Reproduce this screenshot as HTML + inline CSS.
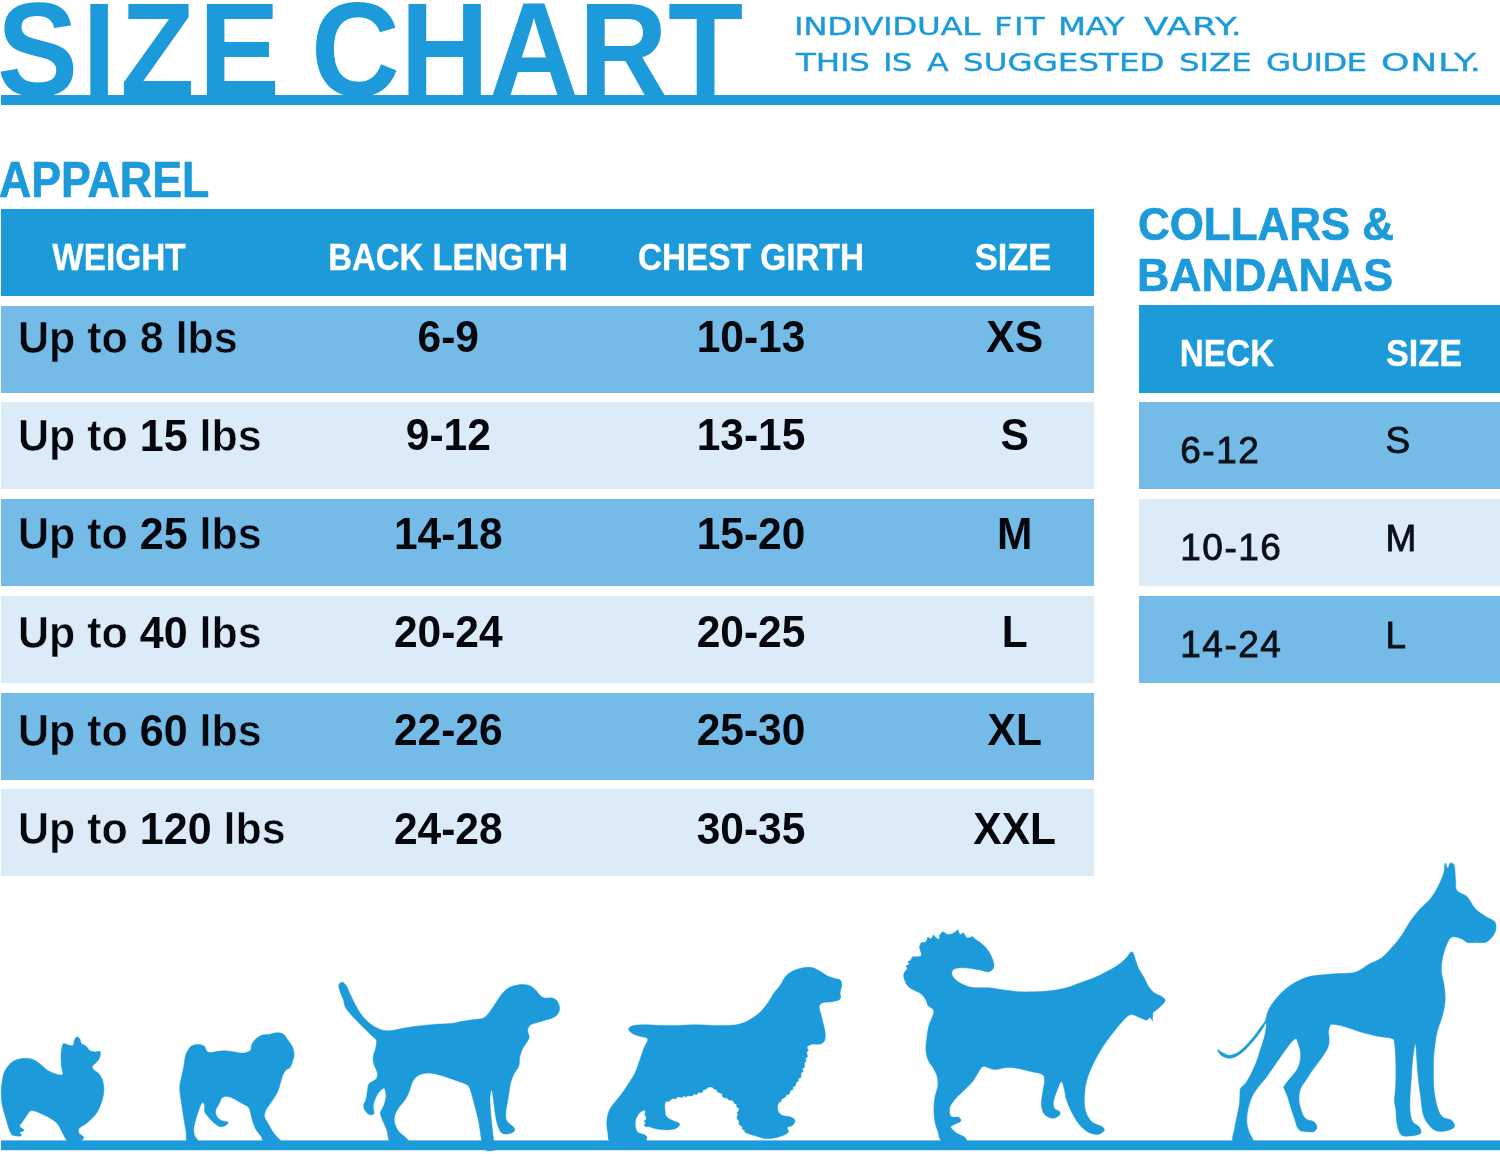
<!DOCTYPE html>
<html lang="en"><head><meta charset="utf-8"><title>Size Chart</title>
<style>
html,body{margin:0;padding:0;background:#fff;}
body{width:1500px;height:1154px;position:relative;overflow:hidden;font-family:"Liberation Sans",sans-serif;}
.abs{position:absolute;white-space:nowrap;line-height:1;}
.c{transform-origin:50% 84.65%;text-align:center;}
.blue{color:#1c9ad9;}
.hv{-webkit-text-stroke:0.7px #1c9ad9;}
.bar{position:absolute;}
.hd{color:#fff;font-weight:bold;font-size:37.5px;-webkit-text-stroke:0.35px #fff;}
.num{color:#05070d;font-weight:bold;font-size:42.5px;}
.sy{display:inline-block;transform-origin:0 84.65%;transform:scaleY(1.045);}
.wt{color:#05070d;font-size:43px;font-weight:bold;}
.wt b{-webkit-text-stroke:0;}
.rn{color:#0a0f18;font-size:37px;letter-spacing:1.5px;-webkit-text-stroke:0.8px #0a0f18;}
.ttl{font-size:133.5px;font-weight:bold;transform-origin:0 0;}
.sub{font-family:"DejaVu Sans","Liberation Sans",sans-serif;font-size:25px;transform-origin:0 0;-webkit-text-stroke:0.35px #1c9ad9;}
</style></head><body>

<header>
<h1 style="margin:0;font-size:inherit;font-weight:inherit">
<span id="t1" class="abs blue ttl" style="top:-17.5px;left:-3.5px;transform:scaleX(0.91);letter-spacing:4.7px">SIZE</span>
<span id="t2" class="abs blue ttl" style="top:-17.5px;left:310.8px;transform:scaleX(0.922);letter-spacing:0.4px">CHART</span>
</h1>
<div class="bar" style="left:1px;top:95.4px;width:1499px;height:9.2px;background:#1c9ad9"></div>
<p class="abs blue sub" id="sub1" style="margin:0;left:0;top:14.0px;width:1500px;height:26px"><span style="position:absolute;left:794.1px;top:0;transform-origin:0 0;transform:scaleX(1.300);letter-spacing:-0.26px">INDIVIDUAL</span> <span style="position:absolute;left:994.3px;top:0;transform-origin:0 0;transform:scaleX(1.300);letter-spacing:0.96px">FIT</span> <span style="position:absolute;left:1058.1px;top:0;transform-origin:0 0;transform:scaleX(1.300);letter-spacing:-0.35px">MAY</span> <span style="position:absolute;left:1144.3px;top:0;transform-origin:0 0;transform:scaleX(1.426);letter-spacing:0.50px">VARY.</span></p>
<p class="abs blue sub" id="sub2" style="margin:0;left:0;top:49.5px;width:1500px;height:26px"><span style="position:absolute;left:795.8px;top:0;transform-origin:0 0;transform:scaleX(1.300);letter-spacing:-0.15px">THIS</span> <span style="position:absolute;left:883.4px;top:0;transform-origin:0 0;transform:scaleX(1.300);letter-spacing:-0.62px">IS</span> <span style="position:absolute;left:926.8px;top:0;transform-origin:0 0;transform:scaleX(1.271);letter-spacing:0.00px">A</span> <span style="position:absolute;left:962.7px;top:0;transform-origin:0 0;transform:scaleX(1.300);letter-spacing:0.01px">SUGGESTED</span> <span style="position:absolute;left:1178.7px;top:0;transform-origin:0 0;transform:scaleX(1.300);letter-spacing:-0.05px">SIZE</span> <span style="position:absolute;left:1265.9px;top:0;transform-origin:0 0;transform:scaleX(1.300);letter-spacing:-0.58px">GUIDE</span> <span style="position:absolute;left:1381.0px;top:0;transform-origin:0 0;transform:scaleX(1.448);letter-spacing:0.50px">ONLY.</span></p>
</header>
<main>
<section aria-label="Apparel size chart">
<h2 class="abs blue hv" id="apparel" style="margin:0;left:-1px;top:155.1px;font-size:50.5px;font-weight:bold;transform-origin:0 0;transform:scaleX(0.885)">APPAREL</h2>
<div role="table" aria-label="Apparel">
<div role="row">
<div class="bar" style="left:1px;top:209px;width:1093px;height:87px;background:#1c9ad9"></div>
<div role="columnheader" class="abs c hd" id="h1" style="left:-81.0px;width:400px;top:239px;transform:scale(0.89,1.0);">WEIGHT</div>
<div role="columnheader" class="abs c hd" id="h2" style="left:248.0px;width:400px;top:239px;transform:scale(0.878,1.0);">BACK LENGTH</div>
<div role="columnheader" class="abs c hd" id="h3" style="left:551.0px;width:400px;top:239px;transform:scale(0.89,1.0);">CHEST GIRTH</div>
<div role="columnheader" class="abs c hd" id="h4" style="left:813.3px;width:400px;top:239px;transform:scale(0.92,1.0);">SIZE</div>
</div>
<div role="row">
<div class="bar" style="left:1px;top:305.50px;width:1093px;height:87px;background:#74bbe8"></div>
<div role="cell" class="abs wt" id="w0" style="left:18px;top:316.50px;-webkit-text-stroke:0.55px #74bbe8"><span class="sy">Up to 8 lbs</span></div>
<div role="cell" class="abs c num" id="b0" style="left:248.3px;width:400px;top:316.92px;transform:scale(1.0,1.045);">6-9</div>
<div role="cell" class="abs c num" id="c0" style="left:551.0px;width:400px;top:316.92px;transform:scale(1.0,1.045);">10-13</div>
<div role="cell" class="abs c num" id="s0" style="left:814.7px;width:400px;top:316.92px;transform:scale(1.0,1.045);">XS</div>
</div>
<div role="row">
<div class="bar" style="left:1px;top:402.25px;width:1093px;height:87px;background:#dcebf8"></div>
<div role="cell" class="abs wt" id="w1" style="left:18px;top:414.85px;-webkit-text-stroke:0.55px #dcebf8"><span class="sy">Up to <b>15</b> lbs</span></div>
<div role="cell" class="abs c num" id="b1" style="left:248.3px;width:400px;top:415.27px;transform:scale(1.0,1.045);">9-12</div>
<div role="cell" class="abs c num" id="c1" style="left:551.0px;width:400px;top:415.27px;transform:scale(1.0,1.045);">13-15</div>
<div role="cell" class="abs c num" id="s1" style="left:814.7px;width:400px;top:415.27px;transform:scale(1.0,1.045);">S</div>
</div>
<div role="row">
<div class="bar" style="left:1px;top:499.00px;width:1093px;height:87px;background:#74bbe8"></div>
<div role="cell" class="abs wt" id="w2" style="left:18px;top:513.20px;-webkit-text-stroke:0.55px #74bbe8"><span class="sy">Up to <b>25</b> lbs</span></div>
<div role="cell" class="abs c num" id="b2" style="left:248.3px;width:400px;top:513.62px;transform:scale(1.0,1.045);">14-18</div>
<div role="cell" class="abs c num" id="c2" style="left:551.0px;width:400px;top:513.62px;transform:scale(1.0,1.045);">15-20</div>
<div role="cell" class="abs c num" id="s2" style="left:814.7px;width:400px;top:513.62px;transform:scale(1.0,1.045);">M</div>
</div>
<div role="row">
<div class="bar" style="left:1px;top:595.75px;width:1093px;height:87px;background:#dcebf8"></div>
<div role="cell" class="abs wt" id="w3" style="left:18px;top:611.55px;-webkit-text-stroke:0.55px #dcebf8"><span class="sy">Up to <b>40</b> lbs</span></div>
<div role="cell" class="abs c num" id="b3" style="left:248.3px;width:400px;top:611.97px;transform:scale(1.0,1.045);">20-24</div>
<div role="cell" class="abs c num" id="c3" style="left:551.0px;width:400px;top:611.97px;transform:scale(1.0,1.045);">20-25</div>
<div role="cell" class="abs c num" id="s3" style="left:814.7px;width:400px;top:611.97px;transform:scale(1.0,1.045);">L</div>
</div>
<div role="row">
<div class="bar" style="left:1px;top:692.50px;width:1093px;height:87px;background:#74bbe8"></div>
<div role="cell" class="abs wt" id="w4" style="left:18px;top:709.90px;-webkit-text-stroke:0.55px #74bbe8"><span class="sy">Up to <b>60</b> lbs</span></div>
<div role="cell" class="abs c num" id="b4" style="left:248.3px;width:400px;top:710.32px;transform:scale(1.0,1.045);">22-26</div>
<div role="cell" class="abs c num" id="c4" style="left:551.0px;width:400px;top:710.32px;transform:scale(1.0,1.045);">25-30</div>
<div role="cell" class="abs c num" id="s4" style="left:814.7px;width:400px;top:710.32px;transform:scale(1.0,1.045);">XL</div>
</div>
<div role="row">
<div class="bar" style="left:1px;top:789.25px;width:1093px;height:87px;background:#dcebf8"></div>
<div role="cell" class="abs wt" id="w5" style="left:18px;top:808.25px;-webkit-text-stroke:0.55px #dcebf8"><span class="sy">Up to <b>120</b> lbs</span></div>
<div role="cell" class="abs c num" id="b5" style="left:248.3px;width:400px;top:808.67px;transform:scale(1.0,1.045);">24-28</div>
<div role="cell" class="abs c num" id="c5" style="left:551.0px;width:400px;top:808.67px;transform:scale(1.0,1.045);">30-35</div>
<div role="cell" class="abs c num" id="s5" style="left:814.7px;width:400px;top:808.67px;transform:scale(1.0,1.045);">XXL</div>
</div>
</div>
</section>
<section aria-label="Collars and bandanas size chart">
<h2 style="margin:0;font-size:inherit;font-weight:inherit">
<span class="abs blue hv" id="col1" style="left:1137.5px;top:201px;font-size:46.5px;font-weight:bold;transform-origin:0 0;transform:scaleX(0.944)">COLLARS &amp;</span>
<span class="abs blue hv" id="col2" style="left:1137px;top:251.6px;font-size:46.5px;font-weight:bold;transform-origin:0 0;transform:scaleX(0.962)">BANDANAS</span>
</h2>
<div role="table" aria-label="Collars and bandanas">
<div role="row">
<div class="bar" style="left:1139px;top:305px;width:361px;height:88px;background:#1c9ad9"></div>
<div role="columnheader" class="abs c hd" id="h5" style="left:1027.0px;width:400px;top:335px;transform:scale(0.89,1.0);">NECK</div>
<div role="columnheader" class="abs c hd" id="h6" style="left:1223.5px;width:400px;top:335px;transform:scale(0.91,1.0);">SIZE</div>
</div>
<div role="row">
<div class="bar" style="left:1139px;top:402.20px;width:361px;height:87px;background:#74bbe8"></div>
<div role="cell" class="abs rn" id="n0" style="left:1180.3px;top:431.68px">6-12</div>
<div role="cell" class="abs rn" id="z0" style="left:1385.5px;top:422.38px">S</div>
</div>
<div role="row">
<div class="bar" style="left:1139px;top:498.90px;width:361px;height:87px;background:#dcebf8"></div>
<div role="cell" class="abs rn" id="n1" style="left:1180.3px;top:528.98px">10-16</div>
<div role="cell" class="abs rn" id="z1" style="left:1385.5px;top:519.68px">M</div>
</div>
<div role="row">
<div class="bar" style="left:1139px;top:595.60px;width:361px;height:87px;background:#74bbe8"></div>
<div role="cell" class="abs rn" id="n2" style="left:1180.3px;top:626.28px">14-24</div>
<div role="cell" class="abs rn" id="z2" style="left:1385.5px;top:616.98px">L</div>
</div>
</div>
</section>
</main>
<footer>
<svg class="bar" role="img" aria-label="Dog silhouettes from smallest to largest" style="left:0;top:0" width="1500" height="1154" viewBox="0 0 1500 1154">
<rect x="1" y="1140.4" width="1499" height="9.8" fill="#1c9ad9"/>
<g fill="#1c9ad9" stroke="#1c9ad9" stroke-width="0.5" stroke-linejoin="round">
<path id="dog-pom" d="M1.7 1085.0C2.1 1082.1 2.6 1077.5 3.5 1074.6C4.4 1071.7 5.6 1069.6 7.0 1067.6C8.3 1065.6 9.9 1063.7 11.6 1062.4C13.4 1061.0 15.3 1060.2 17.4 1059.5C19.5 1058.8 22.1 1058.4 24.4 1058.3C26.7 1058.2 29.2 1058.3 31.3 1058.9C33.5 1059.5 35.2 1060.5 37.2 1061.8C39.1 1063.1 41.0 1064.9 43.0 1066.4C44.9 1068.0 46.6 1069.8 48.8 1071.1C50.9 1072.3 53.4 1073.4 55.7 1074.0C58.1 1074.6 61.7 1075.8 62.7 1074.6C63.7 1073.3 61.8 1069.3 61.5 1066.4C61.2 1063.5 61.0 1059.9 61.0 1057.2C61.0 1054.4 61.2 1052.4 61.5 1050.2C61.9 1048.0 62.1 1044.7 63.3 1043.8C64.4 1042.9 66.9 1044.7 68.5 1045.0C70.1 1045.3 72.2 1046.3 73.1 1045.5C74.1 1044.8 73.6 1041.8 74.3 1040.3C75.0 1038.9 76.2 1036.9 77.2 1036.8C78.2 1036.7 79.4 1038.7 80.1 1039.7C80.8 1040.8 80.3 1042.2 81.3 1043.2C82.2 1044.3 84.5 1044.9 85.9 1046.1C87.4 1047.4 88.4 1049.8 90.0 1050.8C91.5 1051.7 93.6 1051.8 95.2 1051.9C96.9 1052.0 99.0 1050.9 99.9 1051.3C100.7 1051.8 100.6 1053.5 100.4 1054.8C100.2 1056.2 99.6 1058.0 98.7 1059.5C97.8 1060.9 96.3 1062.4 95.2 1063.5C94.1 1064.7 92.5 1065.4 92.3 1066.4C92.1 1067.5 93.0 1068.8 94.0 1069.9C95.1 1071.1 97.3 1071.9 98.7 1073.4C100.0 1075.0 101.3 1076.9 102.2 1079.2C103.0 1081.5 103.7 1084.6 103.9 1087.3C104.1 1090.1 103.8 1092.8 103.3 1095.5C102.9 1098.2 102.0 1100.9 101.0 1103.6C100.0 1106.3 99.1 1109.2 97.5 1111.7C96.0 1114.2 93.9 1116.6 91.7 1118.7C89.6 1120.8 86.9 1122.9 84.8 1124.5C82.6 1126.1 79.9 1127.1 79.0 1128.6C78.0 1130.0 78.2 1131.9 79.0 1133.2C79.7 1134.6 82.9 1135.7 83.6 1136.7C84.3 1137.7 83.6 1138.2 83.0 1139.0C82.4 1139.8 82.5 1140.9 80.1 1141.3C77.7 1141.7 71.3 1142.5 68.5 1141.3C65.7 1140.2 65.0 1137.2 63.3 1134.4C61.5 1131.6 60.1 1127.1 58.1 1124.5C56.0 1121.9 53.6 1120.3 51.1 1118.7C48.6 1117.0 45.7 1115.9 43.0 1114.6C40.3 1113.4 37.0 1111.7 34.8 1111.1C32.7 1110.6 31.6 1110.3 30.2 1111.1C28.7 1112.0 27.5 1114.5 26.1 1116.4C24.8 1118.2 23.1 1120.5 22.1 1122.2C21.0 1123.8 19.4 1125.0 19.7 1126.2C20.0 1127.5 23.3 1128.9 23.8 1129.7C24.3 1130.6 23.3 1131.1 22.6 1131.5C22.0 1131.9 19.9 1131.4 19.7 1132.0C19.5 1132.7 21.9 1134.9 21.5 1135.5C21.1 1136.2 19.1 1136.3 17.4 1136.1C15.8 1135.9 13.1 1135.7 11.6 1134.4C10.2 1133.0 9.6 1130.4 8.7 1128.0C7.8 1125.6 7.3 1122.8 6.4 1119.9C5.5 1117.0 4.3 1113.7 3.5 1110.6C2.7 1107.5 2.1 1104.4 1.7 1101.3C1.4 1098.2 1.2 1094.7 1.2 1092.0C1.2 1089.3 1.4 1087.9 1.7 1085.0Z"/>
<path id="dog-pug" d="M186.7 1052.5C187.8 1050.5 189.4 1047.5 191.3 1046.1C193.3 1044.8 196.2 1044.4 198.3 1044.4C200.4 1044.4 202.7 1045.0 204.1 1046.1C205.6 1047.3 205.9 1050.3 207.0 1051.3C208.2 1052.4 209.3 1052.5 211.1 1052.5C212.9 1052.5 215.7 1051.6 218.1 1051.3C220.4 1051.1 222.3 1050.7 225.0 1050.8C227.7 1050.9 231.2 1051.5 234.3 1051.9C237.4 1052.3 240.9 1053.4 243.6 1053.1C246.3 1052.8 249.2 1051.6 250.6 1050.2C251.9 1048.7 250.8 1046.3 251.7 1044.4C252.7 1042.4 254.6 1040.1 256.4 1038.6C258.1 1037.0 260.0 1035.8 262.2 1035.1C264.3 1034.4 266.8 1034.9 269.1 1034.5C271.5 1034.1 273.8 1032.9 276.1 1032.8C278.4 1032.7 281.1 1032.8 283.1 1033.9C285.0 1035.1 286.2 1037.6 287.7 1039.7C289.3 1041.9 291.3 1044.2 292.4 1046.7C293.4 1049.2 294.1 1052.3 294.1 1054.8C294.1 1057.3 293.0 1059.7 292.4 1061.8C291.7 1063.9 291.1 1066.3 290.0 1067.6C289.0 1069.0 287.1 1068.8 286.0 1069.9C284.8 1071.1 283.9 1072.6 283.1 1074.6C282.2 1076.5 281.5 1079.0 280.8 1081.5C280.0 1084.1 279.4 1087.2 278.4 1089.7C277.5 1092.2 276.3 1094.3 274.9 1096.6C273.6 1099.0 271.8 1101.5 270.3 1103.6C268.9 1105.7 267.2 1107.3 266.2 1109.4C265.3 1111.5 264.2 1114.0 264.5 1116.4C264.8 1118.7 266.6 1120.8 268.0 1123.3C269.3 1125.9 271.1 1129.1 272.6 1131.5C274.2 1133.8 276.0 1135.6 277.3 1137.3C278.5 1138.9 282.3 1140.7 280.2 1141.3C278.0 1142.0 267.7 1142.2 264.5 1141.3C261.3 1140.5 262.4 1137.9 261.0 1136.1C259.7 1134.3 257.7 1132.6 256.4 1130.3C255.0 1128.0 253.9 1125.1 252.9 1122.2C251.9 1119.3 251.3 1115.4 250.6 1112.9C249.8 1110.4 249.8 1108.7 248.2 1107.1C246.7 1105.4 243.6 1104.4 241.3 1103.0C239.0 1101.7 236.6 1100.0 234.3 1099.0C232.0 1097.9 229.4 1096.8 227.3 1096.6C225.3 1096.4 223.5 1096.6 222.1 1097.8C220.8 1099.0 220.3 1101.5 219.2 1103.6C218.2 1105.7 216.1 1108.4 215.7 1110.6C215.3 1112.7 215.9 1114.7 216.9 1116.4C217.9 1118.0 219.7 1119.5 221.5 1120.4C223.4 1121.4 227.2 1121.4 227.9 1122.2C228.7 1123.0 227.4 1124.3 226.2 1125.1C224.9 1125.9 222.3 1127.1 220.4 1126.8C218.4 1126.5 216.5 1124.9 214.6 1123.3C212.6 1121.8 210.4 1119.5 208.8 1117.5C207.1 1115.6 205.4 1113.7 204.7 1111.7C204.0 1109.8 205.1 1107.5 204.7 1105.9C204.3 1104.4 203.3 1102.1 202.4 1102.4C201.5 1102.8 200.5 1105.5 199.5 1108.2C198.4 1111.0 197.0 1115.2 196.0 1118.7C195.0 1122.2 193.9 1126.2 193.7 1129.1C193.5 1132.0 194.2 1134.1 194.8 1136.1C195.5 1138.1 199.0 1140.5 197.7 1141.3C196.5 1142.2 189.2 1143.0 187.3 1141.3C185.4 1139.7 186.6 1134.7 186.1 1131.5C185.6 1128.3 185.0 1125.7 184.4 1122.2C183.8 1118.7 183.2 1114.4 182.6 1110.6C182.1 1106.7 181.4 1102.8 180.9 1099.0C180.4 1095.1 179.6 1091.0 179.7 1087.3C179.8 1083.7 180.8 1080.4 181.5 1076.9C182.2 1073.4 183.2 1069.5 183.8 1066.4C184.4 1063.3 184.5 1060.6 185.0 1058.3C185.4 1056.0 185.6 1054.5 186.7 1052.5Z"/>
<path id="dog-beagle" d="M338.8 986.0C338.8 984.4 339.6 983.3 340.4 982.8C341.2 982.3 342.5 982.1 343.6 982.8C344.7 983.5 345.6 984.7 346.8 986.8C348.0 988.9 349.3 992.5 350.8 995.6C352.3 998.7 353.7 1001.9 355.6 1005.2C357.5 1008.5 359.6 1012.5 362.0 1015.6C364.4 1018.7 367.1 1021.3 370.0 1023.6C372.9 1025.9 376.4 1028.0 379.6 1029.2C382.8 1030.4 385.5 1030.9 389.2 1030.8C392.9 1030.7 397.2 1029.2 402.0 1028.4C406.8 1027.6 412.7 1026.7 418.0 1026.0C423.3 1025.3 428.7 1024.8 434.0 1024.4C439.3 1024.0 445.2 1024.1 450.0 1023.6C454.8 1023.1 458.8 1021.9 462.8 1021.2C466.8 1020.5 470.5 1020.1 474.0 1019.6C477.5 1019.1 480.9 1019.3 483.6 1018.0C486.3 1016.7 487.9 1014.3 490.0 1011.6C492.1 1008.9 494.4 1004.9 496.4 1002.0C498.4 999.1 499.9 996.4 502.0 994.0C504.1 991.6 506.4 989.1 509.2 987.6C512.0 986.1 515.6 985.1 518.8 984.7C522.0 984.3 525.7 984.5 528.4 985.2C531.1 985.9 532.9 987.6 534.8 989.2C536.7 990.8 538.0 993.3 539.6 994.8C541.2 996.3 542.3 997.5 544.4 998.0C546.5 998.5 550.3 997.5 552.4 998.0C554.5 998.5 556.0 999.5 557.2 1001.2C558.4 1002.9 559.6 1006.1 559.6 1008.4C559.6 1010.7 558.4 1013.2 557.2 1014.8C556.0 1016.4 554.5 1017.1 552.4 1018.0C550.3 1018.9 547.1 1019.6 544.4 1020.4C541.7 1021.2 538.8 1022.0 536.4 1022.8C534.0 1023.6 531.5 1023.9 530.0 1025.2C528.5 1026.5 527.7 1028.8 527.6 1030.8C527.5 1032.8 529.5 1035.1 529.2 1037.2C528.9 1039.3 527.2 1041.5 526.0 1043.6C524.8 1045.7 523.1 1047.6 522.0 1050.0C520.9 1052.4 520.1 1055.3 519.6 1058.0C519.1 1060.7 519.7 1063.3 518.8 1066.0C517.9 1068.7 515.3 1071.3 514.0 1074.0C512.7 1076.7 511.6 1079.1 510.8 1082.0C510.0 1084.9 509.7 1088.4 509.2 1091.6C508.7 1094.8 508.1 1098.0 507.6 1101.2C507.1 1104.4 506.3 1107.9 506.0 1110.8C505.7 1113.7 505.5 1116.7 506.0 1118.8C506.5 1120.9 507.9 1122.1 509.2 1123.6C510.5 1125.1 513.2 1126.3 514.0 1127.6C514.8 1128.9 515.1 1130.5 514.0 1131.6C512.9 1132.7 509.7 1133.9 507.6 1134.0C505.5 1134.1 502.9 1134.1 501.2 1132.4C499.5 1130.7 498.3 1127.2 497.2 1123.6C496.1 1120.0 495.5 1115.1 494.8 1110.8C494.1 1106.5 493.7 1101.5 493.2 1098.0C492.7 1094.5 492.1 1090.0 491.6 1090.0C491.1 1090.0 490.1 1094.0 490.0 1098.0C489.9 1102.0 490.4 1108.7 490.8 1114.0C491.2 1119.3 491.9 1125.3 492.4 1130.0C492.9 1134.7 493.5 1138.8 494.0 1142.0C494.5 1145.2 496.5 1147.7 495.6 1149.2C494.7 1150.7 490.0 1150.7 488.4 1150.8C486.8 1150.9 487.1 1151.5 486.0 1150.0C484.9 1148.5 483.2 1146.7 482.0 1142.0C480.8 1137.3 480.0 1128.0 478.8 1122.0C477.6 1116.0 476.1 1111.1 474.8 1106.0C473.5 1100.9 472.0 1095.1 470.8 1091.6C469.6 1088.1 469.7 1086.9 467.6 1085.2C465.5 1083.5 461.5 1082.5 458.0 1081.2C454.5 1079.9 450.5 1078.4 446.8 1077.2C443.1 1076.0 439.1 1074.7 435.6 1074.0C432.1 1073.3 428.9 1072.9 426.0 1073.2C423.1 1073.5 420.3 1074.1 418.0 1075.6C415.7 1077.1 413.9 1079.3 412.4 1082.0C410.9 1084.7 410.4 1088.7 409.2 1091.6C408.0 1094.5 406.9 1096.9 405.2 1099.6C403.5 1102.3 400.5 1104.9 398.8 1107.6C397.1 1110.3 395.5 1112.9 394.8 1115.6C394.1 1118.3 394.1 1120.9 394.8 1123.6C395.5 1126.3 397.1 1129.3 398.8 1131.6C400.5 1133.9 403.6 1135.5 405.2 1137.2C406.8 1138.9 410.8 1141.2 408.4 1142.0C406.0 1142.8 394.4 1144.0 390.8 1142.0C387.2 1140.0 388.3 1133.9 386.8 1130.0C385.3 1126.1 383.1 1121.7 382.0 1118.8C380.9 1115.9 380.1 1114.5 380.4 1112.4C380.7 1110.3 382.7 1108.7 383.6 1106.0C384.5 1103.3 385.9 1099.3 386.0 1096.4C386.1 1093.5 385.5 1089.2 384.4 1088.4C383.3 1087.6 381.1 1090.0 379.6 1091.6C378.1 1093.2 376.7 1095.6 375.6 1098.0C374.5 1100.4 373.5 1103.5 373.2 1106.0C372.9 1108.5 374.5 1111.7 374.0 1113.2C373.5 1114.7 371.5 1115.2 370.0 1114.8C368.5 1114.4 366.3 1112.4 365.2 1110.8C364.1 1109.2 363.5 1107.1 363.6 1105.2C363.7 1103.3 365.3 1102.1 366.0 1099.6C366.7 1097.1 367.1 1092.7 367.6 1090.0C368.1 1087.3 367.7 1085.5 369.2 1083.6C370.7 1081.7 375.1 1080.7 376.4 1078.8C377.7 1076.9 377.6 1074.8 377.2 1072.4C376.8 1070.0 374.7 1067.1 374.0 1064.4C373.3 1061.7 372.9 1059.1 373.2 1056.4C373.5 1053.7 375.1 1051.1 375.6 1048.4C376.1 1045.7 377.1 1042.5 376.4 1040.4C375.7 1038.3 373.7 1037.7 371.6 1035.6C369.5 1033.5 366.3 1030.3 363.6 1027.6C360.9 1024.9 358.0 1022.1 355.6 1019.6C353.2 1017.1 350.9 1014.5 349.2 1012.4C347.5 1010.3 346.1 1008.8 345.2 1006.8C344.3 1004.8 344.4 1002.8 343.6 1000.4C342.8 998.0 341.2 994.8 340.4 992.4C339.6 990.0 338.8 987.6 338.8 986.0Z"/>
<path id="dog-spaniel" d="M628.6 1029.4C628.5 1028.1 629.6 1026.7 632.1 1025.9C634.5 1025.2 638.6 1024.8 643.3 1024.7C648.1 1024.6 654.9 1025.3 660.7 1025.4C666.4 1025.5 672.2 1025.5 678.0 1025.4C683.8 1025.3 689.6 1024.7 695.3 1024.7C701.1 1024.7 706.9 1025.3 712.7 1025.4C718.4 1025.5 725.1 1025.8 730.0 1025.4C734.9 1025.1 738.4 1024.5 742.1 1023.3C745.9 1022.1 749.4 1020.2 752.5 1018.1C755.7 1016.1 758.6 1013.8 761.2 1011.2C763.8 1008.6 766.1 1005.4 768.1 1002.5C770.2 999.6 771.3 996.8 773.3 993.9C775.4 991.0 778.3 988.1 780.3 985.2C782.3 982.3 783.5 978.8 785.5 976.5C787.5 974.2 789.8 972.7 792.4 971.3C795.0 969.9 797.9 968.8 801.1 968.2C804.3 967.6 808.3 967.0 811.5 967.5C814.7 968.0 817.5 970.0 820.1 971.3C822.7 972.7 824.8 974.5 827.1 975.7C829.4 976.8 831.8 977.5 834.0 978.3C836.2 979.0 838.8 978.8 840.1 980.0C841.4 981.2 841.8 983.2 841.8 985.2C841.8 987.2 840.4 989.8 840.1 992.1C839.8 994.4 841.4 997.5 840.1 999.1C838.8 1000.7 835.0 1001.1 832.3 1001.7C829.5 1002.2 825.8 1001.8 823.6 1002.5C821.4 1003.3 819.7 1004.0 819.3 1006.0C818.8 1008.0 820.3 1011.5 821.0 1014.7C821.7 1017.8 822.9 1021.9 823.6 1025.1C824.3 1028.2 825.2 1031.1 825.3 1033.7C825.5 1036.3 825.3 1038.9 824.5 1040.7C823.6 1042.4 822.0 1043.6 820.1 1044.1C818.3 1044.7 815.2 1043.8 813.2 1044.1C811.2 1044.4 809.0 1045.2 808.0 1045.9C807.0 1046.5 807.1 1048.0 807.1 1048.0C807.1 1048.0 808.4 1050.3 808.4 1050.3C808.4 1050.3 806.5 1052.3 806.5 1052.3C806.5 1052.3 807.0 1053.8 807.1 1054.5C807.3 1055.3 807.5 1056.8 807.5 1056.8C807.5 1056.8 805.3 1058.5 805.3 1058.5C805.3 1058.5 806.3 1061.0 806.3 1061.0C806.3 1061.0 804.5 1062.7 804.5 1062.7C804.5 1062.7 804.6 1064.2 804.5 1064.9C804.5 1065.7 804.4 1067.2 804.4 1067.2C804.4 1067.2 802.4 1068.9 802.4 1068.9C802.4 1068.9 803.3 1071.4 803.3 1071.4C803.3 1071.4 800.9 1073.0 800.9 1073.0C800.9 1073.0 801.1 1074.6 801.1 1075.3C801.1 1076.1 800.8 1077.5 800.8 1077.5C800.8 1077.5 798.3 1078.4 798.3 1078.4C798.3 1078.4 798.5 1080.9 798.5 1080.9C798.5 1080.9 796.5 1082.0 796.5 1082.0C796.5 1082.0 796.1 1083.3 795.9 1084.0C795.7 1084.7 795.2 1086.1 795.2 1086.1C795.2 1086.1 792.8 1087.0 792.8 1087.0C792.8 1087.0 793.0 1089.7 793.0 1089.7C793.0 1089.7 790.3 1090.4 790.3 1090.4C790.3 1090.4 790.1 1092.0 789.8 1092.7C789.6 1093.4 788.8 1094.6 788.8 1094.6C788.8 1094.6 786.3 1094.7 786.3 1094.7C786.3 1094.7 785.6 1097.0 785.6 1097.0C785.6 1097.0 784.4 1097.5 783.7 1097.9C783.1 1098.2 781.6 1099.2 781.6 1099.2C781.6 1099.2 780.8 1101.9 780.8 1101.9C780.8 1101.9 779.1 1101.7 778.5 1103.1C778.0 1104.4 777.1 1108.0 777.7 1110.0C778.3 1112.0 779.8 1114.1 782.0 1115.2C784.2 1116.4 788.5 1116.1 790.7 1116.9C792.8 1117.8 794.7 1119.0 795.0 1120.4C795.3 1121.9 793.7 1124.5 792.4 1125.6C791.1 1126.8 787.9 1126.2 787.2 1127.3C786.5 1128.5 789.5 1131.0 788.1 1132.5C786.6 1134.1 782.2 1135.9 778.5 1136.9C774.9 1137.9 770.2 1138.8 766.4 1138.6C762.7 1138.5 759.5 1137.0 756.0 1136.0C752.5 1135.0 747.4 1133.5 745.6 1132.5C743.8 1131.6 745.0 1130.3 745.0 1130.3C745.0 1130.3 742.3 1129.6 742.3 1129.6C742.3 1129.6 742.4 1126.8 742.4 1126.8C742.4 1126.8 741.0 1126.1 740.4 1125.6C739.8 1125.1 738.8 1123.7 738.8 1123.7C738.8 1123.7 739.2 1121.0 739.2 1121.0C739.2 1121.0 737.3 1119.3 737.3 1119.3C737.3 1119.3 736.8 1117.7 736.9 1116.9C737.1 1116.2 738.1 1114.9 738.1 1114.9C738.1 1114.9 737.0 1112.4 737.0 1112.4C737.0 1112.4 739.1 1110.6 739.1 1110.6C739.1 1110.6 739.1 1108.9 738.7 1108.3C738.3 1107.7 736.7 1107.1 736.7 1107.1C736.7 1107.1 736.7 1104.3 736.7 1104.3C736.7 1104.3 734.2 1103.5 734.2 1103.5C734.2 1103.5 733.9 1101.9 733.5 1101.3C733.0 1100.8 731.5 1100.0 731.5 1100.0C731.5 1100.0 728.9 1100.2 728.9 1100.2C728.9 1100.2 727.3 1098.0 727.3 1098.0C727.3 1098.0 725.6 1098.1 724.8 1097.9C724.0 1097.7 722.5 1096.8 722.5 1096.8C722.5 1096.8 722.0 1093.8 722.0 1093.8C722.0 1093.8 720.4 1093.0 719.6 1092.7C718.8 1092.4 717.4 1092.1 717.4 1092.1C717.4 1092.1 716.6 1089.5 716.6 1089.5C716.6 1089.5 714.1 1089.2 714.1 1089.2C714.1 1089.2 713.3 1087.9 712.7 1087.5C712.0 1087.1 710.1 1086.9 710.1 1086.9C710.1 1086.9 708.1 1087.1 707.5 1087.5C706.8 1087.9 706.2 1089.4 706.2 1089.4C706.2 1089.4 703.5 1089.4 703.5 1089.4C703.5 1089.4 702.8 1092.1 702.8 1092.1C702.8 1092.1 701.3 1092.6 700.5 1092.7C699.8 1092.7 698.2 1092.5 698.2 1092.5C698.2 1092.5 696.6 1094.8 696.6 1094.8C696.6 1094.8 694.1 1094.1 694.1 1094.1C694.1 1094.1 692.4 1095.9 692.4 1095.9C692.4 1095.9 690.9 1096.2 690.1 1096.1C689.4 1096.1 688.0 1095.6 688.0 1095.6C688.0 1095.6 686.0 1097.3 686.0 1097.3C686.0 1097.3 683.8 1095.8 683.8 1095.8C683.8 1095.8 681.9 1097.7 681.9 1097.7C681.9 1097.7 680.5 1097.2 679.7 1097.0C679.0 1096.9 677.3 1096.9 677.3 1096.9C677.3 1096.9 675.6 1099.0 675.6 1099.0C675.6 1099.0 673.1 1098.4 673.1 1098.4C673.1 1098.4 671.7 1099.1 671.1 1099.6C670.4 1100.1 669.3 1101.3 669.3 1101.3C669.3 1101.3 666.7 1101.3 666.7 1101.3C666.7 1101.3 665.3 1101.6 665.0 1103.1C664.7 1104.5 664.7 1107.7 665.0 1110.0C665.3 1112.3 665.1 1115.1 666.7 1116.9C668.3 1118.8 672.4 1120.1 674.5 1121.3C676.7 1122.4 679.4 1122.7 679.7 1123.9C680.0 1125.0 678.3 1127.2 676.3 1128.2C674.2 1129.2 670.8 1129.8 667.6 1129.9C664.4 1130.1 660.4 1129.7 657.2 1129.1C654.0 1128.5 650.4 1126.8 648.5 1126.5C646.7 1126.1 646.2 1126.9 646.2 1126.9C646.2 1126.9 644.3 1126.2 644.2 1125.6C644.1 1125.1 645.5 1123.6 645.5 1123.6C645.5 1123.6 644.2 1121.1 644.2 1121.1C644.2 1121.1 646.3 1119.3 646.3 1119.3C646.3 1119.3 646.2 1117.7 645.9 1116.9C645.7 1116.2 644.8 1114.8 644.8 1114.8C644.8 1114.8 645.3 1112.2 645.3 1112.2C645.3 1112.2 645.3 1109.8 644.2 1110.0C643.2 1110.2 640.4 1111.7 639.0 1113.5C637.6 1115.2 636.1 1118.1 635.5 1120.4C635.0 1122.7 635.1 1125.3 635.5 1127.3C636.0 1129.4 636.5 1131.2 638.1 1132.5C639.7 1133.8 643.6 1134.1 645.1 1135.1C646.5 1136.2 647.4 1137.5 646.8 1138.6C646.2 1139.8 647.4 1141.5 641.6 1142.1C635.8 1142.7 617.8 1143.7 612.1 1142.1C606.5 1140.5 608.7 1136.2 607.8 1132.5C606.9 1128.9 606.6 1124.2 606.9 1120.4C607.2 1116.7 608.1 1113.2 609.5 1110.0C611.0 1106.8 613.4 1104.2 615.6 1101.3C617.8 1098.5 620.2 1095.9 622.5 1092.7C624.8 1089.5 627.3 1085.7 629.5 1082.3C631.6 1078.8 633.8 1075.6 635.5 1071.9C637.3 1068.1 638.4 1063.8 639.9 1059.7C641.3 1055.7 642.9 1051.1 644.2 1047.6C645.5 1044.1 648.4 1040.8 647.7 1038.9C646.9 1037.1 642.3 1037.2 639.9 1036.3C637.4 1035.5 634.8 1034.9 632.9 1033.7C631.1 1032.6 628.7 1030.7 628.6 1029.4Z"/>
<path id="dog-husky" d="M968.7 986.8C965.1 985.6 959.6 983.0 956.8 980.8C954.0 978.6 952.1 975.8 951.8 973.8C951.5 971.8 952.6 969.8 954.8 968.8C957.0 967.8 960.8 967.7 964.8 967.8C968.7 968.0 974.7 969.2 978.7 969.8C982.7 970.5 986.2 972.3 988.7 971.8C991.2 971.4 993.2 969.1 993.8 967.1C994.5 965.2 993.4 962.3 992.8 960.0C992.1 957.8 991.2 955.6 990.0 953.5C988.8 951.4 987.3 949.3 985.7 947.5C984.0 945.7 981.9 943.9 980.2 942.6C978.5 941.2 976.5 940.3 975.3 939.3C974.0 938.3 972.5 936.6 972.5 936.6C972.5 936.6 969.3 937.9 968.2 938.0C967.1 938.0 966.8 937.8 966.0 936.9C965.2 936.0 963.3 932.5 963.3 932.5C963.3 932.5 961.2 934.8 960.3 934.4C959.4 933.9 957.8 929.7 957.8 929.7C957.8 929.7 954.1 933.0 952.3 933.8C950.6 934.6 949.0 934.7 947.4 934.4C945.9 934.0 943.1 931.6 943.1 931.6C943.1 931.6 940.5 933.6 939.8 934.9C939.1 936.2 939.8 939.3 938.7 939.3C937.6 939.3 933.2 934.9 933.2 934.9C933.2 934.9 932.0 938.4 931.0 938.7C930.1 939.1 927.8 937.1 927.8 937.1C927.8 937.1 926.7 941.1 925.6 942.0C924.5 942.9 921.2 942.6 921.2 942.6C921.2 942.6 919.6 945.3 919.6 947.5C919.6 949.7 922.4 954.1 921.2 955.7C920.0 957.2 912.5 956.8 912.5 956.8C912.5 956.8 911.1 959.8 910.3 960.6C909.5 961.4 907.9 961.4 907.9 961.4C907.9 961.4 909.3 963.9 909.0 964.6C908.7 965.3 905.9 965.5 905.9 965.5C905.9 965.5 907.5 967.7 907.2 968.8C907.0 969.9 905.2 970.8 904.6 972.1C904.0 973.3 903.5 974.6 903.7 976.4C904.0 978.2 905.0 981.2 905.9 983.0C906.8 984.8 907.7 986.1 909.2 987.3C910.7 988.6 912.7 989.5 914.7 990.6C916.7 991.7 919.4 992.4 921.2 993.9C923.0 995.4 924.5 997.4 925.6 999.4C926.7 1001.3 927.8 1005.4 927.8 1005.4C927.8 1005.4 930.6 1007.2 931.6 1008.1C932.6 1009.0 933.6 1009.6 933.8 1010.8C934.0 1012.1 933.7 1013.2 932.9 1015.7C932.1 1018.2 929.9 1022.0 928.9 1025.7C927.9 1029.3 927.4 1033.6 926.9 1037.6C926.4 1041.6 925.7 1045.9 925.9 1049.6C926.1 1053.2 926.7 1056.5 927.9 1059.5C929.0 1062.5 931.4 1064.8 932.9 1067.5C934.4 1070.2 936.0 1072.5 936.9 1075.5C937.7 1078.5 938.2 1081.8 937.9 1085.4C937.5 1089.1 935.5 1093.4 934.9 1097.4C934.2 1101.4 933.9 1105.4 933.9 1109.4C933.9 1113.3 934.2 1117.7 934.9 1121.3C935.5 1125.0 936.5 1127.9 937.9 1131.3C939.2 1134.7 938.4 1139.9 942.8 1141.7C947.3 1143.4 961.1 1142.4 964.8 1141.7C968.4 1140.9 966.1 1138.7 964.8 1137.3C963.4 1135.9 959.1 1134.9 956.8 1133.3C954.5 1131.6 951.1 1128.8 950.8 1127.3C950.5 1125.8 953.1 1125.3 954.8 1124.3C956.5 1123.3 960.1 1122.5 960.8 1121.3C961.4 1120.2 960.4 1118.2 958.8 1117.3C957.1 1116.5 952.3 1118.0 950.8 1116.3C949.3 1114.7 949.1 1110.2 949.8 1107.4C950.5 1104.5 952.6 1102.1 954.8 1099.4C957.0 1096.7 959.8 1094.4 962.8 1091.4C965.8 1088.4 970.1 1084.8 972.7 1081.5C975.4 1078.1 976.9 1074.0 978.7 1071.5C980.5 1069.0 981.0 1066.8 983.7 1066.5C986.4 1066.2 990.8 1069.3 994.7 1069.5C998.5 1069.7 1002.6 1067.7 1006.6 1067.5C1010.6 1067.3 1014.6 1067.8 1018.6 1068.5C1022.6 1069.2 1026.5 1070.5 1030.5 1071.5C1034.5 1072.5 1040.2 1072.8 1042.5 1074.5C1044.8 1076.1 1044.5 1078.3 1044.5 1081.5C1044.5 1084.6 1043.0 1089.4 1042.5 1093.4C1042.0 1097.4 1041.2 1101.9 1041.5 1105.4C1041.8 1108.9 1042.7 1112.2 1044.5 1114.3C1046.3 1116.5 1050.0 1118.2 1052.5 1118.3C1054.9 1118.5 1058.3 1116.5 1059.4 1115.3C1060.6 1114.2 1060.3 1112.5 1059.4 1111.4C1058.6 1110.2 1055.4 1110.0 1054.5 1108.4C1053.5 1106.7 1053.0 1104.5 1053.5 1101.4C1054.0 1098.2 1056.1 1092.8 1057.4 1089.4C1058.8 1086.1 1060.3 1081.5 1061.4 1081.5C1062.6 1081.5 1063.6 1086.4 1064.4 1089.4C1065.2 1092.4 1065.2 1095.7 1066.4 1099.4C1067.6 1103.1 1069.4 1107.4 1071.4 1111.4C1073.4 1115.3 1075.5 1119.8 1078.4 1123.3C1081.2 1126.8 1085.0 1130.5 1088.3 1132.3C1091.7 1134.1 1095.6 1134.6 1098.3 1134.3C1101.0 1133.9 1103.8 1131.6 1104.3 1130.3C1104.8 1129.0 1103.3 1127.6 1101.3 1126.3C1099.3 1125.0 1094.8 1124.5 1092.3 1122.3C1089.8 1120.2 1087.7 1116.8 1086.3 1113.3C1085.0 1109.9 1084.5 1105.7 1084.3 1101.4C1084.2 1097.1 1084.7 1091.8 1085.3 1087.4C1086.0 1083.1 1086.8 1079.8 1088.3 1075.5C1089.8 1071.2 1092.0 1066.2 1094.3 1061.5C1096.6 1056.9 1099.3 1052.2 1102.3 1047.6C1105.3 1042.9 1108.9 1037.9 1112.3 1033.6C1115.6 1029.3 1119.2 1024.8 1122.2 1021.7C1125.2 1018.5 1127.2 1015.4 1130.2 1014.7C1133.2 1014.0 1137.4 1016.8 1140.2 1017.7C1142.9 1018.6 1144.9 1020.2 1146.5 1020.1C1148.2 1019.9 1150.1 1016.9 1150.1 1016.9C1150.1 1016.9 1152.5 1020.9 1152.5 1020.9C1152.5 1020.9 1152.9 1012.5 1152.9 1012.5C1152.9 1012.5 1158.1 1008.7 1160.1 1006.7C1162.1 1004.8 1164.7 1002.4 1165.1 1000.7C1165.4 999.1 1163.9 998.1 1162.1 996.7C1160.3 995.4 1156.4 994.6 1154.1 992.8C1151.8 990.9 1149.8 988.3 1148.1 985.8C1146.5 983.3 1145.6 980.5 1144.1 977.8C1142.6 975.2 1140.5 972.5 1139.2 969.8C1137.8 967.2 1137.3 964.9 1136.2 961.9C1135.0 958.9 1133.8 952.6 1132.2 951.9C1130.5 951.2 1128.5 955.7 1126.2 957.9C1123.9 960.0 1121.6 962.5 1118.2 964.9C1114.9 967.2 1110.3 969.7 1106.3 971.8C1102.3 974.0 1098.6 976.0 1094.3 977.8C1090.0 979.6 1085.0 981.1 1080.4 982.8C1075.7 984.5 1071.4 986.5 1066.4 987.8C1061.4 989.1 1055.8 990.1 1050.5 990.8C1045.2 991.4 1039.8 991.6 1034.5 991.8C1029.2 991.9 1023.9 992.1 1018.6 991.8C1013.3 991.4 1007.6 990.4 1002.6 989.8C997.6 989.1 992.7 988.1 988.7 987.8C984.7 987.4 982.0 987.9 978.7 987.8C975.4 987.6 972.4 987.9 968.7 986.8Z"/>
<path id="dog-dane" d="M1218.0 1049.4C1218.3 1049.2 1219.4 1050.8 1220.6 1051.6C1221.8 1052.3 1223.4 1053.3 1225.0 1053.9C1226.5 1054.5 1227.9 1055.4 1230.0 1055.2C1232.0 1055.0 1234.7 1054.3 1237.5 1052.7C1240.2 1051.0 1243.3 1048.1 1246.2 1045.2C1249.1 1042.3 1252.4 1038.3 1254.9 1035.2C1257.4 1032.1 1259.4 1029.0 1261.2 1026.5C1262.9 1024.0 1264.3 1023.0 1265.5 1020.2C1266.7 1017.5 1266.5 1013.8 1268.5 1009.9C1270.5 1006.0 1273.9 1001.0 1277.6 996.9C1281.2 992.8 1285.8 988.5 1290.6 985.2C1295.3 982.0 1301.0 979.2 1306.2 977.4C1311.4 975.7 1316.1 975.5 1321.7 974.8C1327.4 974.2 1334.3 974.0 1339.9 973.5C1345.6 973.1 1350.8 973.8 1355.5 972.2C1360.3 970.7 1364.2 966.8 1368.5 964.4C1372.9 962.1 1377.6 960.8 1381.5 958.0C1385.4 955.1 1388.4 951.5 1391.9 947.6C1395.4 943.7 1399.3 938.9 1402.3 934.6C1405.3 930.2 1407.1 925.9 1410.1 921.6C1413.1 917.2 1417.0 912.5 1420.5 908.6C1424.0 904.7 1427.9 902.1 1430.9 898.2C1433.9 894.3 1436.5 889.5 1438.7 885.2C1440.9 880.9 1442.8 875.9 1443.9 872.2C1445.0 868.5 1444.5 863.7 1445.2 863.1C1445.8 862.4 1446.9 868.3 1447.8 868.3C1448.7 868.3 1449.3 863.5 1450.4 863.1C1451.5 862.7 1453.4 862.9 1454.3 865.7C1455.1 868.5 1455.1 875.9 1455.6 880.0C1456.0 884.1 1454.9 887.6 1456.9 890.4C1458.8 893.2 1464.2 893.8 1467.3 896.9C1470.3 899.9 1472.0 905.3 1475.1 908.6C1478.1 911.8 1482.2 914.2 1485.5 916.4C1488.7 918.5 1492.8 919.4 1494.6 921.6C1496.3 923.7 1496.3 926.8 1495.9 929.4C1495.4 932.0 1493.7 935.0 1492.0 937.2C1490.2 939.3 1488.3 941.5 1485.5 942.4C1482.7 943.2 1478.1 942.4 1475.1 942.4C1472.0 942.4 1469.7 943.0 1467.3 942.4C1464.9 941.7 1463.4 939.3 1460.8 938.5C1458.2 937.6 1454.1 936.1 1451.7 937.2C1449.3 938.2 1448.0 941.5 1446.5 945.0C1445.0 948.4 1443.5 953.6 1442.6 958.0C1441.7 962.3 1441.1 966.6 1441.3 970.9C1441.5 975.3 1443.2 979.2 1443.9 983.9C1444.5 988.7 1445.4 994.3 1445.2 999.5C1445.0 1004.7 1443.9 1009.9 1442.6 1015.1C1441.3 1020.3 1438.7 1025.5 1437.4 1030.7C1436.1 1035.9 1435.4 1041.1 1434.8 1046.3C1434.1 1051.5 1433.7 1056.3 1433.5 1061.9C1433.3 1067.5 1433.3 1074.5 1433.5 1080.1C1433.7 1085.7 1433.9 1090.5 1434.8 1095.7C1435.7 1100.9 1437.2 1107.6 1438.7 1111.3C1440.2 1115.0 1441.7 1116.3 1443.9 1117.8C1446.1 1119.3 1450.0 1118.9 1451.7 1120.4C1453.4 1121.9 1455.1 1125.1 1454.3 1126.9C1453.4 1128.6 1449.5 1130.1 1446.5 1130.8C1443.5 1131.4 1439.1 1131.8 1436.1 1130.8C1433.1 1129.7 1430.5 1127.1 1428.3 1124.3C1426.1 1121.5 1424.4 1118.6 1423.1 1113.9C1421.8 1109.1 1421.4 1102.2 1420.5 1095.7C1419.6 1089.2 1418.5 1081.4 1417.9 1074.9C1417.3 1068.4 1417.0 1061.9 1416.6 1056.7C1416.2 1051.5 1416.0 1043.3 1415.3 1043.7C1414.7 1044.1 1413.4 1053.7 1412.7 1059.3C1412.1 1064.9 1411.8 1071.4 1411.4 1077.5C1411.0 1083.6 1410.3 1090.1 1410.1 1095.7C1409.9 1101.3 1409.7 1106.9 1410.1 1111.3C1410.5 1115.6 1411.2 1119.1 1412.7 1121.7C1414.2 1124.3 1417.9 1124.9 1419.2 1126.9C1420.5 1128.8 1422.0 1131.8 1420.5 1133.4C1419.0 1134.9 1413.4 1135.7 1410.1 1136.0C1406.9 1136.2 1403.2 1136.6 1401.0 1134.7C1398.8 1132.7 1398.0 1128.6 1397.1 1124.3C1396.2 1119.9 1396.2 1112.6 1395.8 1108.7C1395.4 1104.8 1394.5 1105.2 1394.5 1100.9C1394.5 1096.6 1395.6 1089.2 1395.8 1082.7C1396.0 1076.2 1396.0 1068.4 1395.8 1061.9C1395.6 1055.4 1395.2 1047.6 1394.5 1043.7C1393.9 1039.8 1394.9 1039.8 1391.9 1038.5C1388.9 1037.2 1381.5 1037.0 1376.3 1035.9C1371.1 1034.8 1365.9 1033.5 1360.7 1032.0C1355.5 1030.5 1349.8 1028.1 1345.1 1026.8C1340.5 1025.5 1335.5 1024.4 1332.9 1024.3C1330.4 1024.3 1330.5 1024.9 1329.8 1026.2C1329.1 1027.6 1328.6 1030.0 1328.5 1032.5C1328.4 1035.0 1329.4 1038.5 1329.2 1041.2C1329.0 1043.9 1328.6 1045.8 1327.3 1048.7C1325.9 1051.6 1323.3 1055.3 1321.1 1058.7C1318.8 1062.0 1316.1 1065.1 1313.6 1068.6C1311.1 1072.2 1308.2 1076.8 1306.1 1079.9C1304.0 1083.0 1302.2 1084.9 1301.1 1087.4C1299.9 1089.9 1299.5 1092.4 1299.2 1094.9C1298.9 1097.3 1298.9 1099.8 1299.2 1102.3C1299.5 1104.8 1300.4 1107.5 1301.1 1109.8C1301.8 1112.1 1302.5 1114.4 1303.6 1116.1C1304.6 1117.7 1305.9 1119.0 1307.3 1119.8C1308.8 1120.6 1310.9 1120.3 1312.3 1121.1C1313.8 1121.8 1315.3 1122.9 1316.1 1124.2C1316.8 1125.4 1317.1 1127.3 1316.7 1128.5C1316.3 1129.8 1314.9 1131.1 1313.6 1131.7C1312.2 1132.2 1310.7 1131.8 1308.6 1131.7C1306.5 1131.6 1303.0 1131.8 1301.1 1131.0C1299.2 1130.3 1298.4 1129.2 1297.3 1127.3C1296.3 1125.4 1295.9 1122.9 1294.9 1119.8C1293.8 1116.7 1292.4 1112.5 1291.1 1108.6C1289.9 1104.6 1288.5 1099.4 1287.4 1096.1C1286.2 1092.8 1284.8 1090.3 1284.2 1088.6C1283.7 1086.9 1283.3 1087.8 1284.2 1086.1C1285.2 1084.5 1287.9 1081.1 1289.9 1078.6C1291.8 1076.1 1294.4 1073.8 1296.1 1071.1C1297.8 1068.4 1299.1 1065.5 1299.8 1062.4C1300.6 1059.3 1300.7 1055.3 1300.5 1052.4C1300.3 1049.5 1299.3 1047.2 1298.6 1044.9C1297.9 1042.7 1297.3 1039.1 1296.1 1038.7C1294.9 1038.3 1293.2 1040.2 1291.1 1042.4C1289.0 1044.7 1286.3 1048.7 1283.6 1052.4C1280.9 1056.2 1277.8 1060.7 1274.9 1064.9C1272.0 1069.1 1268.6 1074.1 1266.2 1077.4C1263.7 1080.7 1262.0 1082.2 1259.9 1084.9C1257.8 1087.6 1255.3 1090.7 1253.7 1093.6C1252.0 1096.5 1251.0 1099.2 1249.9 1102.3C1248.9 1105.5 1248.0 1109.0 1247.4 1112.3C1246.9 1115.6 1246.6 1119.2 1246.8 1122.3C1247.0 1125.4 1247.9 1128.5 1248.7 1131.0C1249.5 1133.5 1251.3 1135.5 1251.8 1137.3C1252.3 1139.0 1254.8 1140.9 1251.8 1141.6C1248.8 1142.4 1236.6 1143.6 1233.7 1141.6C1230.8 1139.7 1233.8 1133.8 1234.3 1129.8C1234.9 1125.7 1236.0 1121.5 1236.8 1117.3C1237.7 1113.2 1238.8 1108.4 1239.3 1104.8C1239.8 1101.3 1239.7 1098.8 1239.9 1096.1C1240.2 1093.4 1239.5 1090.9 1240.6 1088.6C1241.6 1086.3 1244.4 1084.9 1246.2 1082.4C1248.0 1079.9 1249.5 1077.0 1251.2 1073.6C1252.8 1070.3 1254.7 1066.2 1256.2 1062.4C1257.6 1058.7 1258.5 1055.8 1259.9 1051.2C1261.4 1046.6 1263.9 1039.6 1264.9 1035.0C1265.9 1030.3 1266.6 1024.1 1266.2 1023.1C1265.7 1022.1 1264.1 1026.3 1262.4 1028.7C1260.7 1031.1 1258.7 1034.3 1256.2 1037.5C1253.7 1040.6 1250.3 1044.5 1247.4 1047.4C1244.5 1050.3 1241.6 1053.1 1238.7 1054.9C1235.8 1056.7 1232.7 1058.1 1230.0 1058.3C1227.3 1058.5 1224.3 1057.1 1222.5 1056.2C1220.6 1055.2 1219.7 1053.8 1219.0 1052.7C1218.2 1051.6 1217.7 1049.6 1218.0 1049.4Z"/>
</g></svg>
</footer>
</body></html>
